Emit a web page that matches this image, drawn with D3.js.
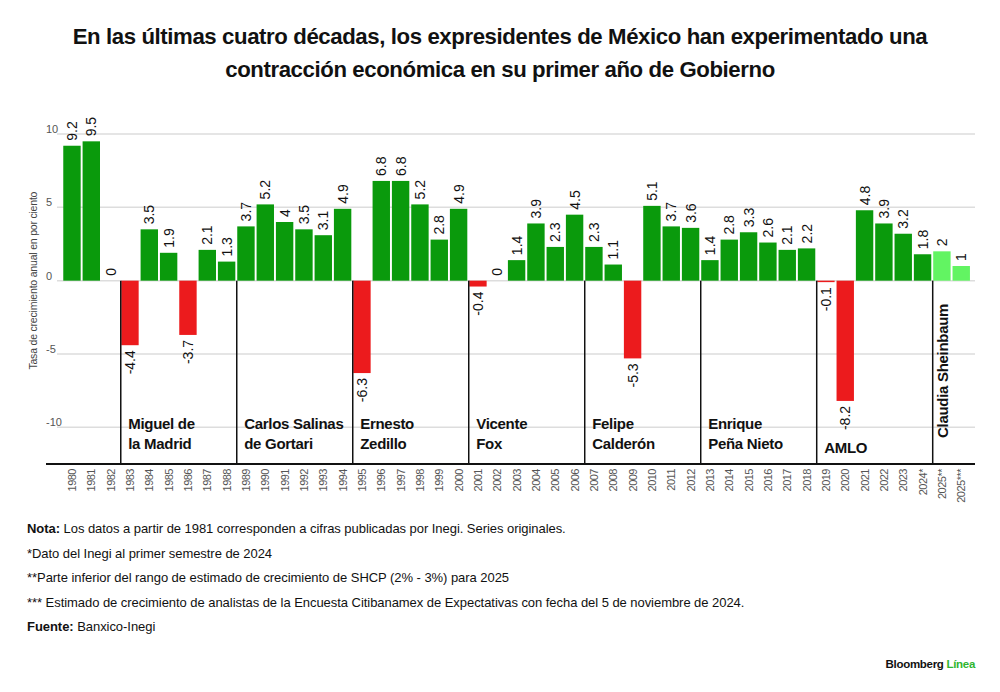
<!DOCTYPE html>
<html>
<head>
<meta charset="utf-8">
<script src="https://cdn.jsdelivr.net/npm/d3@7"></script>
<style>
  body { margin: 0; background: #fff; }
  svg { display: block; font-family: "Liberation Sans", Arial, sans-serif; }
</style>
</head>
<body>
<div id="chart"></div>
<script>
// Crecimiento anual del PIB de México, 1980-2025

const years = ["1980","1981","1982","1983","1984","1985","1986","1987","1988","1989",
  "1990","1991","1992","1993","1994","1995","1996","1997","1998","1999",
  "2000","2001","2002","2003","2004","2005","2006","2007","2008","2009",
  "2010","2011","2012","2013","2014","2015","2016","2017","2018","2019",
  "2020","2021","2022","2023","2024*","2025**","2025***"];

const growth = [9.2, 9.5, 0, -4.4, 3.5, 1.9, -3.7, 2.1, 1.3, 3.7,
  5.2, 4, 3.5, 3.1, 4.9, -6.3, 6.8, 6.8, 5.2, 2.8,
  4.9, -0.4, 0, 1.4, 3.9, 2.3, 4.5, 2.3, 1.1, -5.3,
  5.1, 3.7, 3.6, 1.4, 2.8, 3.3, 2.6, 2.1, 2.2, -0.1,
  -8.2, 4.8, 3.9, 3.2, 1.8, 2, 1];

// estimaciones (barras verde claro)
const estimates = ["2025**", "2025***"];

const yTicks = [10, 5, 0, -5, -10];

// primer año de cada sexenio
const termStart = ["1983", "1989", "1995", "2001", "2007", "2013", "2019", "2025**"];
const presidents = [
  ["Miguel de", "la Madrid"],
  ["Carlos Salinas", "de Gortari"],
  ["Ernesto", "Zedillo"],
  ["Vicente", "Fox"],
  ["Felipe", "Calderón"],
  ["Enrique", "Peña Nieto"],
  ["AMLO"],
  ["Claudia Sheinbaum"]
];

const titleLines = [
  "En las últimas cuatro décadas, los expresidentes de México han experimentado una",
  "contracción económica en su primer año de Gobierno"
];

const notes = [
  ["Nota:", " Los datos a partir de 1981 corresponden a cifras publicadas por Inegi. Series originales."],
  ["", "*Dato del Inegi al primer semestre de 2024"],
  ["", "**Parte inferior del rango de estimado de crecimiento de SHCP (2% - 3%) para 2025"],
  ["", "*** Estimado de crecimiento de analistas de la Encuesta Citibanamex de Expectativas con fecha del 5 de noviembre de 2024."],
  ["Fuente:", " Banxico-Inegi"]
];

const width = 1000, height = 692;
const green = "#0a9a0c", red = "#ec1b1d", lightGreen = "#62f462";

const svg = d3.select("#chart").append("svg")
  .attr("width", width)
  .attr("height", height);

svg.append("rect").attr("width", width).attr("height", height).attr("fill", "#fff");

// titulo
svg.append("g").selectAll("text")
  .data(titleLines)
  .join("text")
  .attr("x", 500)
  .attr("y", (d, i) => 44 + i * 33)
  .attr("text-anchor", "middle")
  .attr("font-size", 22.2)
  .attr("font-weight", "bold")
  .attr("letter-spacing", -0.4)
  .attr("fill", "#111")
  .text(d => d);

// escalas
const x = d3.scaleBand()
  .domain(years)
  .range([62.3, 970.9])
  .paddingInner(0.1)
  .paddingOuter(0.05);

const y = d3.scaleLinear()
  .domain([-12.5, 10])
  .range([464, 134]);

// lineas de cuadricula
const grid = svg.append("g");
grid.selectAll("line")
  .data(yTicks)
  .join("line")
  .attr("x1", 57)
  .attr("x2", 975)
  .attr("y1", d => y(d))
  .attr("y2", d => y(d))
  .attr("stroke", "#dddddd")
  .attr("stroke-width", 1.5);

grid.selectAll("text")
  .data(yTicks)
  .join("text")
  .attr("x", 46)
  .attr("y", d => y(d) - 1)
  .attr("font-size", 11)
  .attr("fill", "#555")
  .text(d => d);

// titulo del eje y
svg.append("text")
  .attr("transform", "translate(37," + y(0) + ") rotate(-90)")
  .attr("text-anchor", "middle")
  .attr("font-size", 10.5)
  .attr("letter-spacing", -0.2)
  .attr("fill", "#444")
  .text("Tasa de crecimiento anual en por ciento");

// barras
const colorOf = (d, i) => estimates.includes(years[i]) ? lightGreen : (d < 0 ? red : green);

svg.append("g").selectAll("rect")
  .data(growth)
  .join("rect")
  .attr("x", (d, i) => x(years[i]))
  .attr("y", d => y(Math.max(0, d)))
  .attr("width", x.bandwidth())
  .attr("height", d => Math.abs(y(d) - y(0)))
  .attr("fill", colorOf);

// etiquetas de valor
svg.append("g").selectAll("text")
  .data(growth)
  .join("text")
  .attr("transform", (d, i) => {
    const cx = x(years[i]) + x.bandwidth() / 2 + 5;
    const cy = d < 0 ? y(d) + 5 : y(d) - 5;
    return "translate(" + cx + "," + cy + ") rotate(-90)";
  })
  .attr("text-anchor", d => d < 0 ? "end" : "start")
  .attr("font-size", 14)
  .attr("fill", "#111")
  .text(d => d);

// separadores de sexenio
const sep = svg.append("g");
sep.selectAll("line")
  .data(termStart)
  .join("line")
  .attr("x1", d => x(d) - 0.5)
  .attr("x2", d => x(d) - 0.5)
  .attr("y1", y(0))
  .attr("y2", y(-12.5))
  .attr("stroke", "#111")
  .attr("stroke-width", 1.5);

// nombres de presidentes
presidents.forEach((lines, k) => {
  const x0 = x(termStart[k]);
  if (k === presidents.length - 1) {
    svg.append("text")
      .attr("transform", "translate(" + (x0 + x.bandwidth() / 2 + 6) + ",438) rotate(-90)")
      .attr("font-size", 15)
      .attr("font-weight", "bold")
      .attr("letter-spacing", -0.3)
      .attr("fill", "#111")
      .text(lines[0]);
    return;
  }
  svg.append("g").selectAll("text")
    .data(lines)
    .join("text")
    .attr("x", x0 + 7)
    .attr("y", (d, i) => lines.length === 1 ? 453 : 429 + i * 20)
    .attr("font-size", 15)
    .attr("font-weight", "bold")
    .attr("letter-spacing", -0.3)
    .attr("fill", "#111")
    .text(d => d);
});

// eje x
svg.append("line")
  .attr("x1", 46).attr("x2", 975)
  .attr("y1", y(-12.5)).attr("y2", y(-12.5))
  .attr("stroke", "#111")
  .attr("stroke-width", 2);

svg.append("g").selectAll("text")
  .data(years)
  .join("text")
  .attr("transform", d => "translate(" + (x(d) + x.bandwidth() / 2 + 4) + "," + (y(-12.5) + 5) + ") rotate(-90)")
  .attr("text-anchor", "end")
  .attr("font-size", 11)
  .attr("letter-spacing", -0.5)
  .attr("fill", "#555")
  .text(d => d);

// notas
const noteText = svg.append("g").selectAll("text")
  .data(notes)
  .join("text")
  .attr("x", 27)
  .attr("y", (d, i) => 533 + i * 24.5)
  .attr("font-size", 13)
  .attr("letter-spacing", -0.05)
  .attr("fill", "#111");
noteText.append("tspan").attr("font-weight", "bold").text(d => d[0]);
noteText.append("tspan").text(d => d[1]);

// marca
const brand = svg.append("text")
  .attr("x", 975)
  .attr("y", 668)
  .attr("text-anchor", "end")
  .attr("font-size", 11.5)
  .attr("font-weight", "bold")
  .attr("letter-spacing", -0.3);
brand.append("tspan").attr("fill", "#111").text("Bloomberg ");
brand.append("tspan").attr("fill", "#2fb52f").text("Línea");
</script>
</body>
</html>
